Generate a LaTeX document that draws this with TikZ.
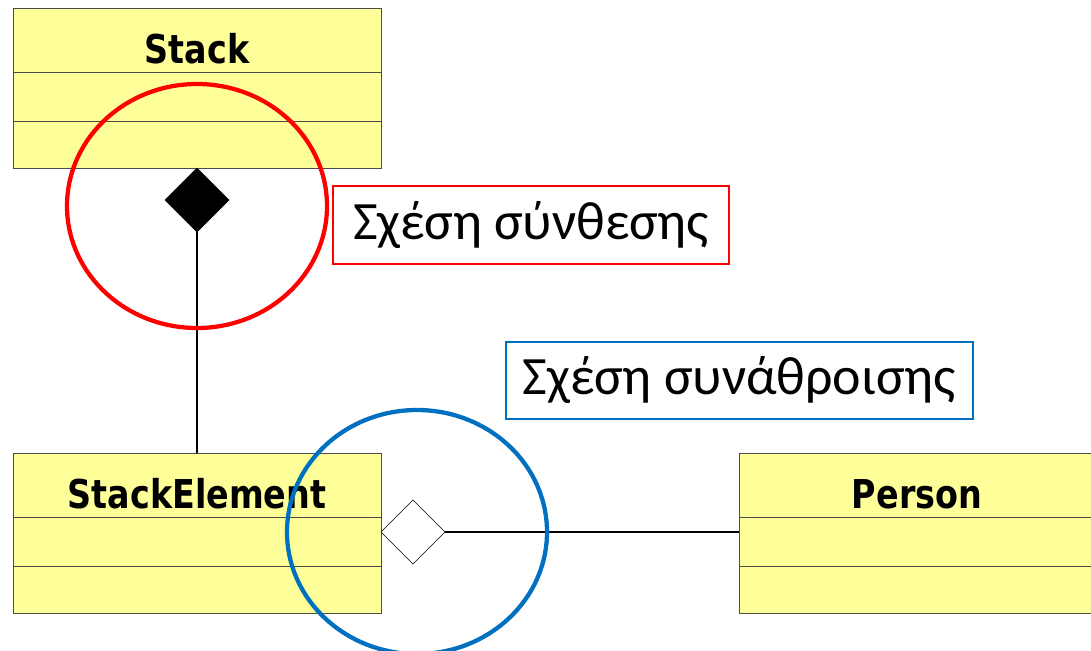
\documentclass[tikz,border=0pt]{standalone}
\usepackage{fontspec}
\usepackage{tikz}
\usetikzlibrary{positioning,shapes.geometric}
\newfontfamily\classfont[FakeStretch=0.84]{DejaVu Sans}
\newfontfamily\greekfont{Carlito}
\definecolor{classyellow}{RGB}{255,255,153}
\definecolor{ringblue}{RGB}{0,112,192}
\tikzset{
    classhead/.style={
    rectangle,draw=black!70,fill=classyellow,minimum width=276pt,minimum height=48pt,
    inner sep=0pt,outer sep=0pt,text height=34.5pt,text depth=0pt,
    font=\classfont\bfseries\fontsize{29.8}{32}\selectfont
    },
    classattr/.style={
    rectangle,draw=black!70,fill=classyellow,minimum width=276pt,minimum height=36.75pt,
    inner sep=0pt,outer sep=0pt
    },
    classops/.style={
    classattr,minimum height=35.25pt
    },
    compose/.style={
    diamond,draw=black,fill=black,minimum width=48pt,minimum height=48pt,inner sep=0pt,outer sep=0pt
    },
    aggregate/.style={
    diamond,draw=black,fill=white,minimum width=48pt,minimum height=48pt,inner sep=0pt,outer sep=0pt
    },
    ring/.style={
    ellipse,line width=3.2pt,minimum width=195pt,minimum height=183pt,inner sep=0pt
    },
    note/.style={
    rectangle,line width=0.9pt,inner sep=0pt,font=\greekfont\fontsize{40.5}{46}\selectfont
    },
}
\begin{document}
\begin{tikzpicture}[x=0.75pt, y=-0.75pt]
   \path[use as bounding box, clip] (0,0) rectangle (1091,650);
   \fill[white] (0,0) rectangle (1091,650);

   \node[classhead] (stack) at (197,40) {Stack};
   \node[classattr, below=0pt of stack] (stackattr) {};
   \node[classops, below=0pt of stackattr] (stackops) {};

   \node[classhead] (elem) at (197,485) {StackElement};
   \node[classattr, below=0pt of elem] (elemattr) {};
   \node[classops, below=0pt of elemattr] (elemops) {};

   \node[classhead, minimum width=267pt] (person) at (917,485) {Person};
   \node[classattr, minimum width=267pt, below=0pt of person] (personattr) {};
   \node[classops, minimum width=267pt, below=0pt of personattr] (personops) {};

   \node[compose, below=0pt of stackops] (compdia) {};
   \node[aggregate] (aggdia) at (413,532) {};

  \path[draw=black, line width=0.9pt]
    (compdia.south) edge node {} (elem.north)
    (aggdia.east) edge node {} (aggdia.east -| personattr.west);

   \node[ring, draw=red] (compring) at (197,206) {};
   \node[ring, draw=ringblue] (aggring) at (417,532) {};

   \node[note, draw=red, minimum width=297pt, minimum height=58.5pt] (compnote) at (531,225) {Σχέση σύνθεσης};
   \node[note, draw=ringblue, minimum width=350.25pt, minimum height=57.75pt] (aggnote) at (739.5,380.5) {Σχέση συνάθροισης};
\end{tikzpicture}
\end{document}
